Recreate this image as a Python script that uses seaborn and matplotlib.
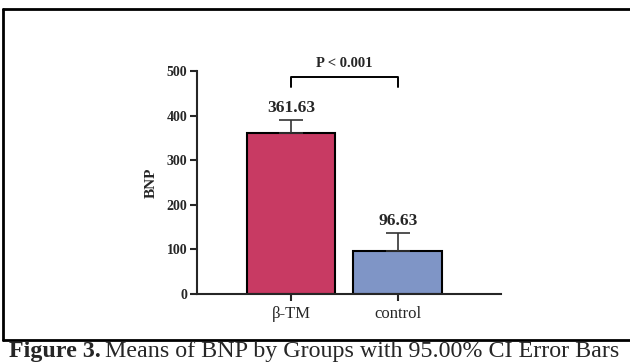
import pandas as pd
import matplotlib.pyplot as plt
import seaborn as sns
from matplotlib.lines import Line2D

# values
groups = ['β-TM', 'control']
means = [361.63, 96.63]
ci_upper = [390, 137]
bar_colors = ['#C83A63', '#7F95C6']
y_ticks = [0, 100, 200, 300, 400, 500]

df = pd.DataFrame({'group': groups, 'BNP': means})

sns.set_style('ticks')
plt.rcParams['font.family'] = ['Liberation Serif', 'DejaVu Serif']

fig = plt.figure(figsize=(6.3, 3.63), dpi=100)
ax = fig.add_axes([0.3127, 0.190, 0.482, 0.614])

sns.barplot(data=df, x='group', y='BNP', hue='group', palette=bar_colors,
            saturation=1, errorbar=None, width=0.83, edgecolor='black',
            linewidth=1.5, legend=False, ax=ax)

# upper-only CI error bars
upper_err = [u - m for u, m in zip(ci_upper, means)]
ax.errorbar(range(len(groups)), means, yerr=[[0] * len(groups), upper_err],
            fmt='none', ecolor='#333333', elinewidth=1.2, capsize=8.3, capthick=1.2)

for i, m in enumerate(means):
    ax.text(i, ci_upper[i] + 10, f'{m:.2f}', ha='center', va='bottom',
            fontsize=12.5, fontweight='bold')

# significance bracket
yb = 487
ax.plot([0, 0, 1, 1], [yb - 22, yb, yb, yb - 22], color='black', lw=1.4, clip_on=False)
ax.text(0.5, yb + 16, 'P < 0.001', ha='center', va='bottom', fontsize=10.5,
        fontweight='bold')

ax.set_xlim(-0.879, 1.963)
ax.set_ylim(0, 500)
ax.set_yticks(y_ticks)
ax.set_ylabel('BNP', fontsize=11, fontweight='bold', labelpad=6)
ax.set_xlabel('')
ax.tick_params(axis='y', labelsize=10, width=1.5, length=5, pad=2)
ax.tick_params(axis='x', labelsize=12, width=1.5, length=5)
for lab in ax.get_yticklabels():
    lab.set_fontweight('bold')
for s in ['left', 'bottom']:
    ax.spines[s].set_linewidth(1.5)
sns.despine(ax=ax)

# outer frame and caption divider
fw, fh = 630, 363
frame_kw = dict(color='black', lw=2, transform=fig.transFigure)
fig.add_artist(Line2D([3 / fw, 1], [1 - 9 / fh, 1 - 9 / fh], **frame_kw))
fig.add_artist(Line2D([3 / fw, 3 / fw], [1 - 340 / fh, 1 - 9 / fh], **frame_kw))
fig.add_artist(Line2D([3 / fw, 1], [1 - 340 / fh, 1 - 340 / fh], **frame_kw))

cap_y = 1 - 352 / fh
cap = fig.text(9 / fw, cap_y, 'Figure 3.', fontsize=17.3, fontweight='bold',
               ha='left', va='center')
fig.canvas.draw()
bb = cap.get_window_extent()
fig.text(bb.x1 / fig.bbox.width + 0.007, cap_y,
         'Means of BNP by Groups with 95.00% CI Error Bars',
         fontsize=17.3, ha='left', va='center')

fig.savefig('out.png', dpi=100)
